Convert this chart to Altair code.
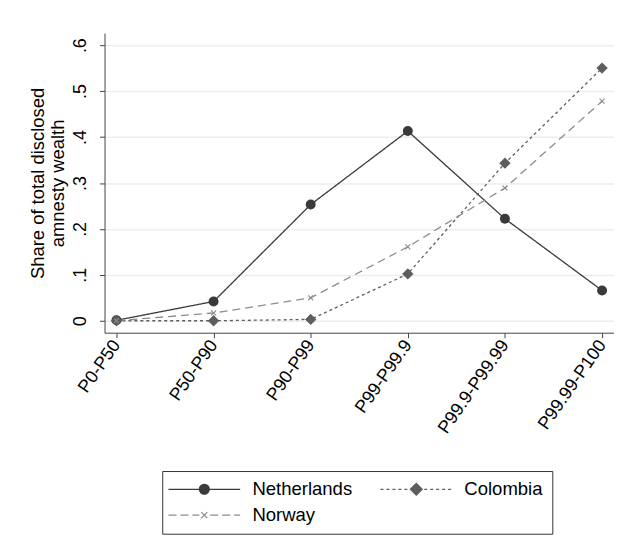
import math
import altair as alt
import pandas as pd

# ---------------- data ----------------
categories = ["P0-P50", "P50-P90", "P90-P99", "P99-P99.9", "P99.9-P99.99", "P99.99-P100"]
series = ["Netherlands", "Colombia", "Norway"]
netherlands = [0.001, 0.042, 0.253, 0.413, 0.222, 0.066]
colombia = [0.000, 0.000, 0.003, 0.102, 0.343, 0.550]
norway = [0.000, 0.017, 0.050, 0.161, 0.289, 0.478]
y_ticks = [0, 0.1, 0.2, 0.3, 0.4, 0.5, 0.6]
y_title = ["Share of total disclosed", "amnesty wealth"]

rows = []
for name, vals in zip(series, [netherlands, colombia, norway]):
    for c, v in zip(categories, vals):
        rows.append({"group": name, "cat": c, "value": v})
df = pd.DataFrame(rows)

# ---------------- styles ----------------
FONT = "Liberation Sans"
FS = 18
colors = ["#3a3a3a", "#5e5e5e", "#8c8c8c"]
dashes = [[1, 0], [3, 3], [8, 5]]


def xpath(h, t):
    pts = [(-t, -h), (t, -h), (t, -t), (h, -t), (h, t), (t, t), (t, h), (-t, h), (-t, t), (-h, t), (-h, -t), (-t, -t)]
    s = math.sqrt(0.5)
    rp = [((x - y) * s, (x + y) * s) for x, y in pts]
    return "M" + "L".join(f"{x:.3f},{y:.3f}" for x, y in rp) + "Z"


marker_shapes = ["circle", "diamond", xpath(1.0, 0.16)]
marker_sizes = [100, 130, 49]


def dash_path(x0, x1, on, off):
    out = []
    x = x0
    while x < x1:
        out.append(f"M{x:.1f},0H{min(x + on, x1):.1f}")
        x += on + off
    return "".join(out)


legend_paths = [
    "M-36,0H36M-5,0A5,5 0 1,0 5,0A5,5 0 1,0 -5,0Z",
    dash_path(-36, -7, 3, 3) + "M0,-6L6,0L0,6L-6,0Z" + dash_path(8, 36, 3, 3),
    dash_path(-36, -5, 8, 4) + "M-3,-3L3,3M-3,3L3,-3" + dash_path(6, 36, 8, 4),
]

# colour / dash scales for the lines: data-driven domain (alphabetical)
sorted_series = sorted(series)
line_colors = [colors[series.index(s)] for s in sorted_series]
line_dashes = [dashes[series.index(s)] for s in sorted_series]

x_enc = alt.X(
    "cat:N",
    sort=categories,
    scale=alt.Scale(type="point", padding=0.123),
    axis=alt.Axis(
        title=None,
        labelAngle=-55,
        labelAlign="right",
        labelBaseline="middle",
        labelPadding=4,
        tickSize=5,
        grid=False,
        labelFont=FONT,
        labelFontSize=FS,
        labelColor="#000",
    ),
)
y_enc = alt.Y(
    "value:Q",
    scale=alt.Scale(domain=[-0.026, 0.626], nice=False, zero=False),
    axis=alt.Axis(
        values=y_ticks,
        labelExpr="datum.value == 0 ? '0' : replace(format(datum.value, '.1f'), '0.', '.')",
        labelAngle=-90,
        labelAlign="center",
        labelBaseline="alphabetic",
        labelPadding=14,
        tickSize=5,
        grid=True,
        gridColor="#e6eff1",
        gridWidth=1.5,
        title=y_title,
        titleFont=FONT,
        titleFontSize=18.5,
        titleFontWeight="normal",
        titleColor="#000",
        titlePadding=4,
        titleLineHeight=20,
        labelFont=FONT,
        labelFontSize=FS,
        labelColor="#000",
    ),
)

lines = alt.Chart(df).mark_line(strokeWidth=1.3).encode(
    x=x_enc,
    y=y_enc,
    color=alt.Color("group:N", scale=alt.Scale(range=line_colors), legend=None),
    strokeDash=alt.StrokeDash("group:N", scale=alt.Scale(range=line_dashes), legend=None),
    order=alt.Order("cat:N"),
)

point_layers = []
for name, shp, sz, col in zip(series, marker_shapes, marker_sizes, colors):
    point_layers.append(
        alt.Chart(df)
        .transform_filter(alt.datum.group == name)
        .mark_point(filled=True, shape=shp, size=sz, opacity=1, color=col)
        .encode(x=x_enc, y=y_enc)
    )

leg = alt.Legend(
    title=None,
    orient="none",
    legendX=58,
    legendY=440,
    columns=2,
    direction="horizontal",
    symbolSize=4,
    symbolStrokeWidth=1.2,
    symbolOffset=24,
    labelOffset=39,
    labelFont=FONT,
    labelFontSize=18.6,
    labelColor="#000",
    labelLimit=300,
    strokeColor="#333",
    fillColor="white",
    padding=9,
    rowPadding=7,
    columnPadding=25,
)

# layer carrying only the legend (no visible marks)
legend_layer = (
    alt.Chart(df)
    .transform_filter(alt.datum.value > 10)
    .mark_point(filled=True, size=4, opacity=1)
    .encode(
        x=x_enc,
        y=y_enc,
        fill=alt.Fill("group:N", scale=alt.Scale(domain=series, range=colors), legend=leg),
        stroke=alt.Stroke("group:N", scale=alt.Scale(domain=series, range=colors), legend=leg),
        shape=alt.Shape("group:N", scale=alt.Scale(domain=series, range=legend_paths), legend=leg),
    )
)

chart = (
    alt.layer(lines, *point_layers, legend_layer)
    .properties(
        width=512,
        height=301,
        padding={"left": 20, "top": 24, "right": 0, "bottom": 5},
    )
    .configure_view(stroke=None)
    .configure_axis(domainColor="#444", tickColor="#444", domainWidth=1, tickWidth=1)
)

chart.save("out.html", embed_options={"renderer": "svg", "actions": False})
